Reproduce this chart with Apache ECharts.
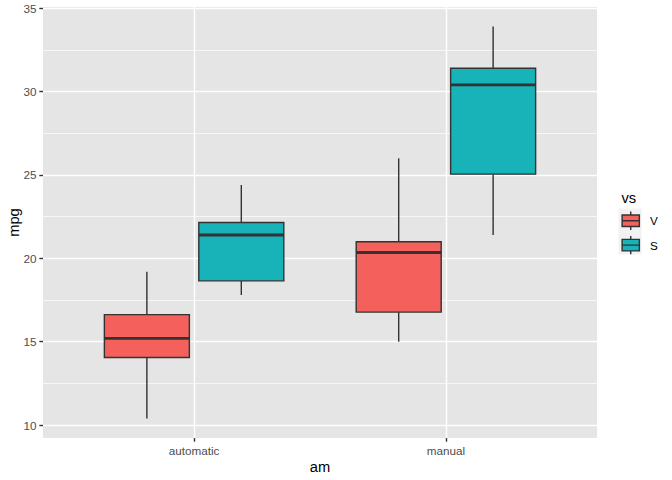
<!DOCTYPE html>
<html><head><meta charset="utf-8">
<script src="https://cdn.jsdelivr.net/npm/echarts@6/dist/echarts.min.js"></script>
<style>html,body{margin:0;padding:0;background:#fff}#c{width:672px;height:480px}</style>
</head><body><div id="c"></div>
<script>
const categories = ['automatic', 'manual'];
const groups = ['V', 'S'];
// [lower whisker, Q1, median, Q3, upper whisker] per category
const statsV = [[10.4, 14.05, 15.2, 16.625, 19.2], [15.0, 16.775, 20.35, 21.0, 26.0]];
const statsS = [[17.8, 18.65, 21.4, 22.15, 24.4], [21.4, 25.05, 30.4, 31.4, 33.9]];
const yTicks = [10, 15, 20, 25, 30, 35];
const yMinorTicks = [12.5, 17.5, 22.5, 27.5, 32.5];
const xTicks = [1, 2];
const groupColors = ['#F4605B', '#17B3B8'];

const FONT = '"Liberation Sans", Arial, Helvetica, sans-serif';
const dodgeWidth = 0.75;
const statsByGroup = [statsV, statsS];
const LW = 1.42;

function makeRender(g) {
  const n = groups.length;
  const offset = (g - (n - 1) / 2) * dodgeWidth / n;
  const bw = dodgeWidth / n * 0.9;
  return function (params, api) {
    const x = api.value(0) + offset;
    const lo = api.coord([x, api.value(1)]);
    const q1 = api.coord([x, api.value(2)]);
    const med = api.coord([x, api.value(3)]);
    const q3 = api.coord([x, api.value(4)]);
    const hi = api.coord([x, api.value(5)]);
    const w = api.size([bw, 0])[0];
    const cx = lo[0];
    const lineStyle = { stroke: '#333333', lineWidth: LW };
    return {
      type: 'group',
      children: [
        { type: 'line', shape: { x1: cx, y1: hi[1], x2: cx, y2: q3[1] }, style: lineStyle },
        { type: 'line', shape: { x1: cx, y1: q1[1], x2: cx, y2: lo[1] }, style: lineStyle },
        { type: 'rect', shape: { x: cx - w / 2, y: q3[1], width: w, height: q1[1] - q3[1] },
          style: { fill: groupColors[g], stroke: '#333333', lineWidth: LW } },
        { type: 'line', shape: { x1: cx - w / 2, y1: med[1], x2: cx + w / 2, y2: med[1] },
          style: { stroke: '#333333', lineWidth: LW * 2 } }
      ]
    };
  };
}

const series = groups.map((name, g) => ({
  name: name,
  type: 'custom',
  renderItem: makeRender(g),
  itemStyle: { color: groupColors[g] },
  encode: { x: 0, y: [1, 2, 3, 4, 5] },
  data: categories.map((c, i) => [i + 1].concat(statsByGroup[g][i]))
}));

const keyIcon = 'path://M8.625,0L8.625,3.45M0,3.45L17.25,3.45L17.25,14.95L0,14.95ZM0,9.2L17.25,9.2M8.625,14.95L8.625,18.4';

const chart = echarts.init(document.getElementById('c'), null, { renderer: 'svg' });
chart.setOption({
  animation: false,
  backgroundColor: '#ffffff',
  textStyle: { fontFamily: FONT },
  grid: { left: 43, right: 75, top: 7, bottom: 42, show: true, backgroundColor: '#E5E5E5', borderWidth: 0,
          containLabel: false, outerBoundsMode: 'none' },
  xAxis: {
    type: 'value', min: 0.4, max: 2.6,
    name: 'am', nameLocation: 'middle', nameGap: 21, nameMoveOverlap: false,
    nameTextStyle: { fontFamily: FONT, fontSize: 14.7, color: '#000000' },
    axisLine: { show: false },
    axisTick: { show: true, length: 3.67, customValues: xTicks, lineStyle: { color: '#333333', width: LW } },
    axisLabel: { customValues: xTicks, margin: 6.6, fontFamily: FONT, fontSize: 11.7, color: '#4D4D4D',
      formatter: v => categories[Math.round(v) - 1] },
    splitLine: { show: true, lineStyle: { color: '#ffffff', width: LW } }
  },
  yAxis: [{
    type: 'value', min: 9.225, max: 35.075,
    name: 'mpg', nameLocation: 'middle', nameGap: 22, nameMoveOverlap: false,
    nameTextStyle: { fontFamily: FONT, fontSize: 14.7, color: '#000000' },
    axisLine: { show: false },
    axisTick: { show: true, length: 3.67, customValues: yTicks, lineStyle: { color: '#333333', width: LW } },
    axisLabel: { customValues: yTicks, margin: 6.6, fontFamily: FONT, fontSize: 11.7, color: '#4D4D4D' },
    splitLine: { show: true, lineStyle: { color: '#ffffff', width: LW } }
  }, {
    type: 'value', min: 9.225, max: 35.075, position: 'left',
    axisLine: { show: false },
    axisTick: { show: false, customValues: yMinorTicks },
    axisLabel: { show: false, customValues: yMinorTicks },
    splitLine: { show: true, lineStyle: { color: '#ffffff', width: LW / 2 } }
  }],
  legend: {
    data: groups.map(g => ({ name: g, icon: keyIcon })),
    orient: 'vertical', left: 621.4, top: 210.8,
    itemWidth: 17.25, itemHeight: 18.4, itemGap: 4.6, padding: 0,
    itemStyle: { borderColor: '#333333', borderWidth: LW },
    textStyle: { fontFamily: FONT, fontSize: 11.7, color: '#000000', padding: [0, 0, 0, 5.7] },
    selectedMode: false
  },
  graphic: [
    { type: 'rect', z: -1, shape: { x: 618.5, y: 208.5, width: 23, height: 46 }, style: { fill: '#F2F2F2' } },
    { type: 'text', style: { text: 'vs', x: 621.5, y: 198, fill: '#000000', font: '14.7px ' + FONT, verticalAlign: 'middle' } }
  ],
  series: series
});
</script></body></html>
